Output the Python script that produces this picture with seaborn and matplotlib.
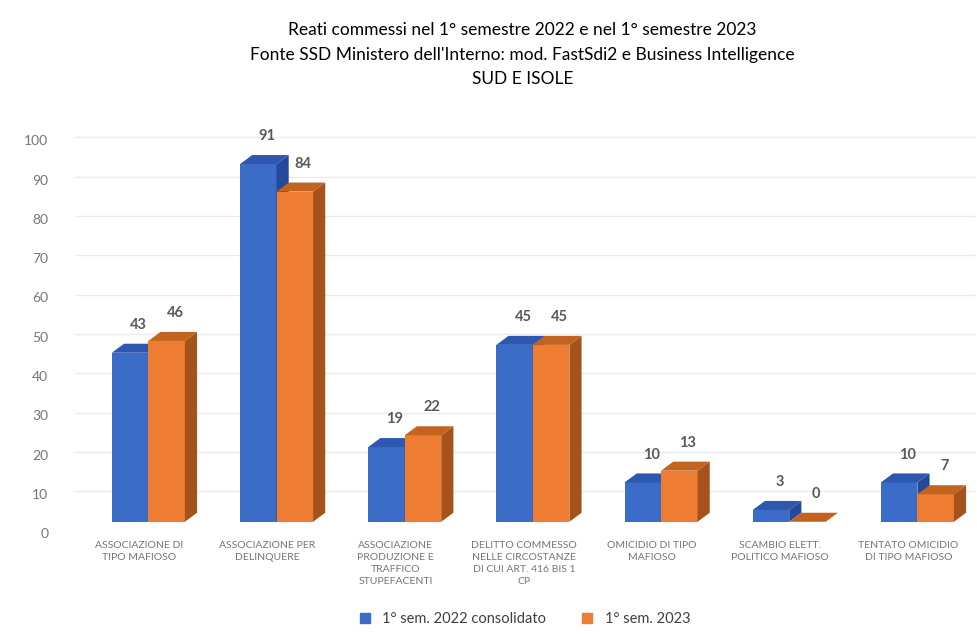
import numpy as np
import pandas as pd
import seaborn as sns
import matplotlib.pyplot as plt
from matplotlib.patches import Polygon
from matplotlib.transforms import ScaledTranslation
from matplotlib.lines import Line2D

plt.switch_backend('agg')

# data
categories = [
    "ASSOCIAZIONE DI\nTIPO MAFIOSO",
    "ASSOCIAZIONE PER\nDELINQUERE",
    "ASSOCIAZIONE\nPRODUZIONE E\nTRAFFICO\nSTUPEFACENTI",
    "DELITTO COMMESSO\nNELLE CIRCOSTANZE\nDI CUI ART. 416 BIS 1\nCP",
    "OMICIDIO DI TIPO\nMAFIOSO",
    "SCAMBIO ELETT.\nPOLITICO MAFIOSO",
    "TENTATO OMICIDIO\nDI TIPO MAFIOSO",
]
sem_2022 = [43, 91, 19, 45, 10, 3, 10]
sem_2023 = [46, 84, 22, 45, 13, 0, 7]
series_names = ["1° sem. 2022 consolidato", "1° sem. 2023"]
y_ticks = list(range(0, 101, 10))

title_lines = [
    "Reati commessi nel 1° semestre 2022 e nel 1° semestre 2023",
    "Fonte SSD Ministero dell'Interno: mod. FastSdi2 e Business Intelligence",
    "SUD E ISOLE",
]

front_colors = ["#3a6cc8", "#ee7d33"]
top_colors = ["#2e58b0", "#c2641f"]
side_colors = ["#24489a", "#a5521b"]

df = pd.DataFrame({
    "categoria": categories * 2,
    "valore": sem_2022 + sem_2023,
    "serie": [series_names[0]] * len(categories) + [series_names[1]] * len(categories),
})

sns.set_style("white")
plt.rcParams['font.family'] = ['Lato', 'DejaVu Sans']

fig = plt.figure(figsize=(9.78, 6.34), dpi=100)
ax = fig.add_axes([0.077, 0.177, 0.92, 0.62])

sns.barplot(data=df, x="categoria", y="valore", hue="serie", order=categories,
            hue_order=series_names, palette=front_colors, width=0.57, gap=0,
            saturation=1, ax=ax, legend=False, linewidth=0)

ax.set_xlim(-0.57, 6.45)
ax.set_ylim(0, 100)

# fake 3D depth: side and top faces built from each bar patch
dx, dy = 0.095, 2.3
for i, container in enumerate(ax.containers):
    z = 2 + i * 0.5
    for bar in container:
        x0, w, h = bar.get_x(), bar.get_width(), bar.get_height()
        bar.set_zorder(z)
        side = Polygon([(x0 + w, 0), (x0 + w + dx, dy), (x0 + w + dx, h + dy), (x0 + w, h)],
                       closed=True, facecolor=side_colors[i], edgecolor="none", zorder=z + 0.1)
        top = Polygon([(x0, h), (x0 + dx, h + dy), (x0 + w + dx, h + dy), (x0 + w, h)],
                      closed=True, facecolor=top_colors[i], edgecolor="none", zorder=z + 0.2)
        ax.add_patch(side)
        ax.add_patch(top)
        ax.text(x0 + w / 2 + dx * 0.7, h + dy + 3.0, f"{int(h)}", ha="center", va="bottom",
                fontsize=10.5, fontweight="bold", color="#595959", zorder=10)

# back-wall gridlines, shifted up like the 3D wall
grid_shift = ScaledTranslation(0, 22 / 72, fig.dpi_scale_trans)
for t in y_ticks[:-1]:
    ax.plot([0.0, 1.0], [t, t], transform=ax.get_yaxis_transform() + grid_shift,
            color="#ebebeb", lw=1.0, zorder=0, clip_on=False)

# y tick labels sit a little lower than the bar floor
ax.set_yticks(y_ticks)
ax.set_yticklabels([])
label_shift = ScaledTranslation(0, -9 / 72, fig.dpi_scale_trans)
for t in y_ticks:
    ax.text(-0.03, t, str(t), transform=ax.get_yaxis_transform() + label_shift,
            ha="right", va="center", fontsize=10, color="#767676")

ax.set_xticks(np.arange(len(categories)) - 0.07)
ax.set_xticklabels(categories, fontsize=7.5, color="#757575", linespacing=1.4)
ax.tick_params(axis="x", length=0, pad=14)
ax.tick_params(axis="y", length=0)
ax.set_xlabel("")
ax.set_ylabel("")
sns.despine(ax=ax, left=True, bottom=True)

# title
for k, line in enumerate(title_lines):
    fig.text(0.534, 0.952 - k * 0.038, line, ha="center", va="center",
             fontsize=12.5, color="#000000")

handles = [Line2D([0], [0], marker="s", linestyle="none", markersize=7,
                  markerfacecolor=c, markeredgecolor=c) for c in front_colors]
fig.legend(handles, series_names, loc="center", bbox_to_anchor=(0.532, 0.024), ncol=2,
           frameon=False, fontsize=10.5, labelcolor="#404040", handletextpad=0.2,
           columnspacing=1.8)

plt.savefig("out.png", dpi=100)
